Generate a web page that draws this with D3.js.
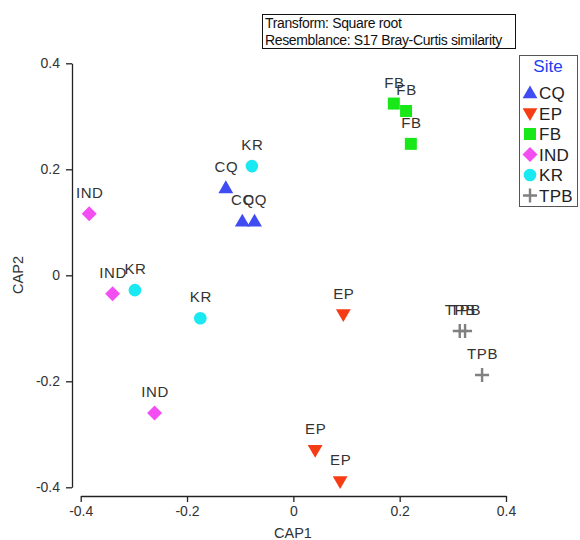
<!DOCTYPE html>
<html lang="en">
<head>
	<meta charset="UTF-8">
	<title>CAP ordination</title>
	<script src="https://cdn.jsdelivr.net/npm/d3@7"></script>
	<style>
		body {
			margin: 0;
			background: #fff;
		}
		svg text {
			font-family: "Liberation Sans", Arial, sans-serif;
			fill: #222;
		}
	</style>
</head>
<body>
<div id="viz"></div>

<script type="text/javascript">
	// data
	let site = ['CQ', 'CQ', 'CQ', 'EP', 'EP', 'EP', 'FB', 'FB', 'FB',
		'IND', 'IND', 'IND', 'KR', 'KR', 'KR', 'TPB', 'TPB', 'TPB'];
	let cap1 = [-0.127, -0.096, -0.073, 0.094, 0.041, 0.088, 0.189, 0.212, 0.221,
		-0.384, -0.340, -0.261, -0.078, -0.298, -0.175, 0.313, 0.323, 0.355];
	let cap2 = [0.165, 0.102, 0.102, -0.074, -0.330, -0.389, 0.324, 0.310, 0.248,
		0.116, -0.035, -0.260, 0.206, -0.028, -0.081, -0.105, -0.105, -0.188];

	let legendSites = ['CQ', 'EP', 'FB', 'IND', 'KR', 'TPB'];
	let tickValues = [-0.4, -0.2, 0, 0.2, 0.4];
	let tickLabels = ['-0.4', '-0.2', '0', '0.2', '0.4'];
	let notes = ['Transform: Square root', 'Resemblance: S17 Bray-Curtis similarity'];

	let width = 580, height = 540;

	let color = d3.scaleOrdinal()
		.domain(legendSites)
		.range(['#3f4cf2', '#f53c14', '#18e818', '#f24ef2', '#1ae9f2', '#808080']);

	let x = d3.scaleLinear().domain([-0.4, 0.4]).range([80.7, 506]);
	let y = d3.scaleLinear().domain([-0.4, 0.4]).range([487.3, 63.3]);

	let svg = d3.select('#viz')
		.append('svg')
		.attr('width', width)
		.attr('height', height);

	// one marker per site, drawn at the origin of sel
	function marker(sel, s) {
		if (s === 'TPB') {
			sel.append('path')
				.attr('d', 'M-7,0H7M0,-7V7')
				.attr('stroke', color(s))
				.attr('stroke-width', 2.4)
				.attr('fill', 'none');
			return;
		}
		let type = {CQ: d3.symbolTriangle, EP: d3.symbolTriangle, FB: d3.symbolSquare,
			IND: d3.symbolSquare, KR: d3.symbolCircle}[s];
		let size = {CQ: 95, EP: 95, FB: 144, IND: 112, KR: 125}[s];
		let tr = '';
		if (s === 'EP') tr = 'rotate(180) translate(0,1)';
		if (s === 'CQ') tr = 'translate(0,1)';
		if (s === 'IND') tr = 'rotate(45)';
		sel.append('path')
			.attr('d', d3.symbol().type(type).size(size)())
			.attr('transform', tr)
			.attr('fill', color(s));
	}

	// axes
	let yAxis = d3.axisLeft(y)
		.tickValues(tickValues)
		.tickFormat((d, i) => tickLabels[i])
		.tickSizeOuter(0)
		.tickSizeInner(6)
		.tickPadding(6);

	let xAxis = d3.axisBottom(x)
		.tickValues(tickValues)
		.tickFormat((d, i) => tickLabels[i])
		.tickSizeOuter(0)
		.tickSizeInner(6)
		.tickPadding(4);

	let gy = svg.append('g')
		.attr('transform', 'translate(72,0)')
		.call(yAxis);

	let gx = svg.append('g')
		.attr('transform', 'translate(0,496)')
		.call(xAxis);

	[gx, gy].forEach((g) => {
		g.selectAll('path, line').attr('stroke', '#222').attr('stroke-width', 1.3);
		g.selectAll('text').attr('font-size', 14).style('fill', '#333');
	});

	svg.append('text')
		.attr('x', 293)
		.attr('y', 538)
		.attr('text-anchor', 'middle')
		.attr('font-size', 14.5)
		.style('fill', '#333')
		.text('CAP1');

	svg.append('text')
		.attr('transform', 'translate(23,275) rotate(-90)')
		.attr('text-anchor', 'middle')
		.attr('font-size', 14.5)
		.style('fill', '#333')
		.text('CAP2');

	// points with labels
	let pts = site.map((s, i) => ({site: s, x: cap1[i], y: cap2[i]}));

	let gp = svg.selectAll('.pt')
		.data(pts)
		.enter().append('g')
		.attr('class', 'pt')
		.attr('transform', (d) => 'translate(' + x(d.x) + ',' + y(d.y) + ')');

	gp.each(function (d) {
		marker(d3.select(this), d.site);
	});

	gp.append('text')
		.attr('x', 0.5)
		.attr('y', -16)
		.attr('text-anchor', 'middle')
		.attr('font-size', 15)
		.attr('letter-spacing', 0.6)
		.style('fill', '#333')
		.text((d) => d.site);

	// transform / resemblance note
	svg.append('rect')
		.attr('x', 262.5)
		.attr('y', 14.5)
		.attr('width', 253)
		.attr('height', 34)
		.attr('fill', '#fff')
		.attr('stroke', '#111');

	svg.selectAll('.note')
		.data(notes)
		.enter().append('text')
		.attr('class', 'note')
		.attr('x', 265)
		.attr('y', (d, i) => 28 + i * 17)
		.attr('font-size', 14)
		.attr('letter-spacing', -0.35)
		.style('fill', '#111')
		.text((d) => d);

	// legend
	svg.append('rect')
		.attr('x', 519.5)
		.attr('y', 55.5)
		.attr('width', 58)
		.attr('height', 151)
		.attr('fill', '#fff')
		.attr('stroke', '#555');

	svg.append('text')
		.attr('x', 548)
		.attr('y', 72)
		.attr('text-anchor', 'middle')
		.attr('font-size', 17)
		.style('fill', '#1a3ef0')
		.text('Site');

	let gl = svg.selectAll('.leg')
		.data(legendSites)
		.enter().append('g')
		.attr('class', 'leg')
		.attr('transform', (d, i) => 'translate(530,' + (93 + i * 20.5) + ')');

	gl.each(function (d) {
		marker(d3.select(this), d);
	});

	gl.append('text')
		.attr('x', 9)
		.attr('y', 6)
		.attr('font-size', 17)
		.attr('letter-spacing', 0.3)
		.style('fill', '#222')
		.text((d) => d);
</script>
</body>
</html>
